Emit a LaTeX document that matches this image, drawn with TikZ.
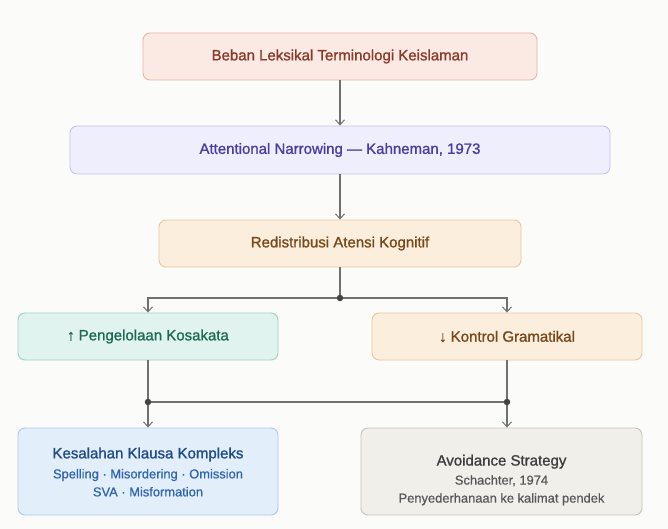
\documentclass[tikz,border=0pt]{standalone}
\usepackage{fontspec}
\setmainfont{Liberation Sans}[FakeBold=1.1]
\newfontfamily\subfont{Liberation Sans}[FakeBold=0.6]
\usetikzlibrary{arrows.meta}
\definecolor{bgc}{HTML}{FBFBF9}
\definecolor{linec}{HTML}{707070}
\definecolor{dotc}{HTML}{444444}
\definecolor{rfill}{HTML}{FBEAE4}\definecolor{rdraw}{HTML}{E6B5A6}\definecolor{rtext}{HTML}{8A3A28}
\definecolor{pfill}{HTML}{EEEEFC}\definecolor{pdraw}{HTML}{C6C3F0}\definecolor{ptext}{HTML}{4A3FA0}
\definecolor{ofill}{HTML}{FBEEDD}\definecolor{odraw}{HTML}{E7C89F}\definecolor{otext}{HTML}{774818}
\definecolor{gfill}{HTML}{E0F3EE}\definecolor{gdraw}{HTML}{9ED3C2}\definecolor{gtext}{HTML}{1E6A4F}
\definecolor{bfill}{HTML}{E3EEFB}\definecolor{bdraw}{HTML}{A9C8EE}\definecolor{btext}{HTML}{1F4C88}\definecolor{bsub}{HTML}{2F64B0}
\definecolor{nfill}{HTML}{F1EFEA}\definecolor{ndraw}{HTML}{C7C3BB}\definecolor{ntext}{HTML}{3E3E3E}\definecolor{nsub}{HTML}{585858}
\tikzset{
  box/.style={draw, line width=0.9pt, rounded corners=7pt, align=center, inner sep=0pt, font=\fontsize{15}{18}\selectfont},
  txt/.style={align=center, inner sep=0pt, font=\fontsize{15}{18}\selectfont},
  conn/.style={draw=linec, line width=1.2pt},
  arr/.style={conn, -{Straight Barb[length=5pt,width=9pt,line width=1pt]}},
  jdot/.style={circle, fill=dotc, inner sep=0pt, minimum size=6.5pt}
}
\newcommand{\subl}[2]{{\subfont\color{#1}\fontsize{12.9}{18}\selectfont #2}}
\begin{document}
\begin{tikzpicture}[x=1pt,y=-1pt]
\useasboundingbox[fill=bgc] (0,0) rectangle (668,529);
\node[box, fill=rfill, draw=rdraw, text=rtext, minimum width=394pt, minimum height=47pt] (b1) at (340,56.5) {Beban Leksikal Terminologi Keislaman};
\node[box, fill=pfill, draw=pdraw, text=ptext, minimum width=540pt, minimum height=48pt] (b2) at (340,150) {Attentional Narrowing — Kahneman, 1973};
\node[box, fill=ofill, draw=odraw, text=otext, minimum width=362pt, minimum height=47pt] (b3) at (340,243.5) {Redistribusi Atensi Kognitif};
\node[box, fill=gfill, draw=gdraw, text=gtext, minimum width=260pt, minimum height=47pt] (b4) at (148,336.5) {↑ Pengelolaan Kosakata};
\node[box, fill=ofill, draw=odraw, text=otext, minimum width=270pt, minimum height=47pt] (b5) at (507,336.5) {↓ Kontrol Gramatikal};
\node[box, fill=bfill, draw=bdraw, minimum width=260pt, minimum height=87pt] (b6) at (148,471.5) {};
\node[txt, text=btext] (b6t) at (148,472) {Kesalahan Klausa Kompleks\\[2pt]\subl{bsub}{Spelling · Misordering · Omission}\\\subl{bsub}{SVA · Misformation}};
\node[box, fill=nfill, draw=ndraw, minimum width=281pt, minimum height=87pt] (b7) at (501.5,471.5) {};
\node[txt, text=ntext] (b7t) at (501.5,480) {Avoidance Strategy\\[1pt]\subl{nsub}{Schachter, 1974}\\\subl{nsub}{Penyederhanaan ke kalimat pendek}};
\coordinate (j1) at (340,298);
\coordinate (j2l) at (148,402);
\coordinate (j2r) at (507,402);
\draw[arr] (b1.south) -- (b2.north);
\draw[arr] (b2.south) -- (b3.north);
\draw[conn] (b3.south) -- (j1);
\draw[arr] (j1) -| (b4.north);
\draw[arr] (j1) -| (b5.north);
\draw[conn] (b4.south) -- (j2l);
\draw[conn] (b5.south) -- (j2r);
\draw[conn] (j2l) -- (j2r);
\draw[arr] (j2l) -- (j2l |- b6.north);
\draw[arr] (j2r) -- (j2r |- b7.north);
\node[jdot] (d1) at (j1) {};
\node[jdot] (d2) at (j2l) {};
\node[jdot] (d3) at (j2r) {};
\end{tikzpicture}
\end{document}
